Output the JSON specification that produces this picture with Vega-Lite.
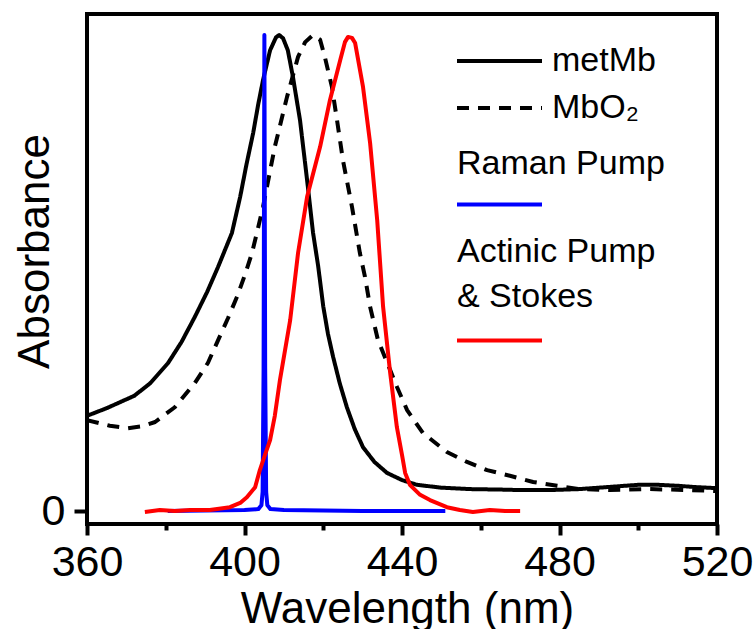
{
  "$schema": "https://vega.github.io/schema/vega-lite/v6.json",
  "width": 630,
  "height": 510,
  "autosize": {"type": "none"},
  "padding": {"left": 87, "top": 14, "right": 39, "bottom": 105},
  "background": "white",
  "config": {
    "view": {"stroke": "black", "strokeWidth": 4},
    "font": "Liberation Sans",
    "axis": {"grid": false, "domain": false, "labelFont": "Liberation Sans", "titleFont": "Liberation Sans", "labelColor": "black", "titleColor": "black", "tickColor": "black", "titleFontWeight": "normal"},
    "legend": {"labelFont": "Liberation Sans", "labelColor": "black", "padding": 0, "labelLimit": 400}
  },
  "datasets": {
    "absorbance": [
      {"sample": "metMb", "wavelength": 360, "value": 0.200},
      {"sample": "metMb", "wavelength": 365, "value": 0.216},
      {"sample": "metMb", "wavelength": 372, "value": 0.242},
      {"sample": "metMb", "wavelength": 376, "value": 0.268},
      {"sample": "metMb", "wavelength": 380.6, "value": 0.311},
      {"sample": "metMb", "wavelength": 384, "value": 0.355},
      {"sample": "metMb", "wavelength": 387.4, "value": 0.408},
      {"sample": "metMb", "wavelength": 390.5, "value": 0.460},
      {"sample": "metMb", "wavelength": 393.3, "value": 0.513},
      {"sample": "metMb", "wavelength": 396.8, "value": 0.584},
      {"sample": "metMb", "wavelength": 398.9, "value": 0.660},
      {"sample": "metMb", "wavelength": 400.5, "value": 0.728},
      {"sample": "metMb", "wavelength": 402.2, "value": 0.794},
      {"sample": "metMb", "wavelength": 403.5, "value": 0.855},
      {"sample": "metMb", "wavelength": 404.7, "value": 0.905},
      {"sample": "metMb", "wavelength": 406.5, "value": 0.968},
      {"sample": "metMb", "wavelength": 408.0, "value": 0.995},
      {"sample": "metMb", "wavelength": 408.8, "value": 1.000},
      {"sample": "metMb", "wavelength": 409.8, "value": 0.993},
      {"sample": "metMb", "wavelength": 411.0, "value": 0.968},
      {"sample": "metMb", "wavelength": 412.3, "value": 0.912},
      {"sample": "metMb", "wavelength": 414.1, "value": 0.821},
      {"sample": "metMb", "wavelength": 415.9, "value": 0.695},
      {"sample": "metMb", "wavelength": 417.4, "value": 0.585},
      {"sample": "metMb", "wavelength": 418.7, "value": 0.515},
      {"sample": "metMb", "wavelength": 420.0, "value": 0.430},
      {"sample": "metMb", "wavelength": 421.2, "value": 0.372},
      {"sample": "metMb", "wavelength": 422.5, "value": 0.324},
      {"sample": "metMb", "wavelength": 424.2, "value": 0.268},
      {"sample": "metMb", "wavelength": 426.0, "value": 0.218},
      {"sample": "metMb", "wavelength": 428.0, "value": 0.172},
      {"sample": "metMb", "wavelength": 430.1, "value": 0.134},
      {"sample": "metMb", "wavelength": 433.0, "value": 0.103},
      {"sample": "metMb", "wavelength": 436.2, "value": 0.080},
      {"sample": "metMb", "wavelength": 440.0, "value": 0.065},
      {"sample": "metMb", "wavelength": 443.8, "value": 0.055},
      {"sample": "metMb", "wavelength": 450.0, "value": 0.049},
      {"sample": "metMb", "wavelength": 457.3, "value": 0.046},
      {"sample": "metMb", "wavelength": 465.0, "value": 0.045},
      {"sample": "metMb", "wavelength": 470.0, "value": 0.044},
      {"sample": "metMb", "wavelength": 477.6, "value": 0.044},
      {"sample": "metMb", "wavelength": 485.0, "value": 0.046},
      {"sample": "metMb", "wavelength": 490.0, "value": 0.049},
      {"sample": "metMb", "wavelength": 495.0, "value": 0.052},
      {"sample": "metMb", "wavelength": 500.0, "value": 0.055},
      {"sample": "metMb", "wavelength": 505.0, "value": 0.055},
      {"sample": "metMb", "wavelength": 510.0, "value": 0.053},
      {"sample": "metMb", "wavelength": 515.0, "value": 0.050},
      {"sample": "metMb", "wavelength": 520.0, "value": 0.048},
      {"sample": "MbO₂", "wavelength": 360, "value": 0.191},
      {"sample": "MbO₂", "wavelength": 365.8, "value": 0.179},
      {"sample": "MbO₂", "wavelength": 370.4, "value": 0.174},
      {"sample": "MbO₂", "wavelength": 374.0, "value": 0.178},
      {"sample": "MbO₂", "wavelength": 377.3, "value": 0.187},
      {"sample": "MbO₂", "wavelength": 382.3, "value": 0.218},
      {"sample": "MbO₂", "wavelength": 387.4, "value": 0.269},
      {"sample": "MbO₂", "wavelength": 390.7, "value": 0.311},
      {"sample": "MbO₂", "wavelength": 393.3, "value": 0.359},
      {"sample": "MbO₂", "wavelength": 395.8, "value": 0.405},
      {"sample": "MbO₂", "wavelength": 398.1, "value": 0.450},
      {"sample": "MbO₂", "wavelength": 400.1, "value": 0.496},
      {"sample": "MbO₂", "wavelength": 401.9, "value": 0.542},
      {"sample": "MbO₂", "wavelength": 403.2, "value": 0.586},
      {"sample": "MbO₂", "wavelength": 404.7, "value": 0.639},
      {"sample": "MbO₂", "wavelength": 407.7, "value": 0.765},
      {"sample": "MbO₂", "wavelength": 410.8, "value": 0.870},
      {"sample": "MbO₂", "wavelength": 413.6, "value": 0.954},
      {"sample": "MbO₂", "wavelength": 415.4, "value": 0.985},
      {"sample": "MbO₂", "wavelength": 417.4, "value": 1.000},
      {"sample": "MbO₂", "wavelength": 419.2, "value": 0.990},
      {"sample": "MbO₂", "wavelength": 420.4, "value": 0.954},
      {"sample": "MbO₂", "wavelength": 422.2, "value": 0.891},
      {"sample": "MbO₂", "wavelength": 423.5, "value": 0.821},
      {"sample": "MbO₂", "wavelength": 425.0, "value": 0.737},
      {"sample": "MbO₂", "wavelength": 427.3, "value": 0.639},
      {"sample": "MbO₂", "wavelength": 429.3, "value": 0.542},
      {"sample": "MbO₂", "wavelength": 430.6, "value": 0.492},
      {"sample": "MbO₂", "wavelength": 431.9, "value": 0.429},
      {"sample": "MbO₂", "wavelength": 433.9, "value": 0.359},
      {"sample": "MbO₂", "wavelength": 437.0, "value": 0.296},
      {"sample": "MbO₂", "wavelength": 438.7, "value": 0.261},
      {"sample": "MbO₂", "wavelength": 441.3, "value": 0.212},
      {"sample": "MbO₂", "wavelength": 445.3, "value": 0.164},
      {"sample": "MbO₂", "wavelength": 451.4, "value": 0.124},
      {"sample": "MbO₂", "wavelength": 456.5, "value": 0.103},
      {"sample": "MbO₂", "wavelength": 461.6, "value": 0.086},
      {"sample": "MbO₂", "wavelength": 467.4, "value": 0.074},
      {"sample": "MbO₂", "wavelength": 473.3, "value": 0.061},
      {"sample": "MbO₂", "wavelength": 479.4, "value": 0.053},
      {"sample": "MbO₂", "wavelength": 485.2, "value": 0.046},
      {"sample": "MbO₂", "wavelength": 492.8, "value": 0.044},
      {"sample": "MbO₂", "wavelength": 503.0, "value": 0.046},
      {"sample": "MbO₂", "wavelength": 513.1, "value": 0.044},
      {"sample": "MbO₂", "wavelength": 520.0, "value": 0.042}
    ],
    "lasers": [
      {"beam": "Raman Pump", "wavelength": 380.5, "value": 0.000},
      {"beam": "Raman Pump", "wavelength": 390.0, "value": 0.001},
      {"beam": "Raman Pump", "wavelength": 400.0, "value": 0.002},
      {"beam": "Raman Pump", "wavelength": 403.5, "value": 0.004},
      {"beam": "Raman Pump", "wavelength": 404.3, "value": 0.012},
      {"beam": "Raman Pump", "wavelength": 404.6, "value": 0.040},
      {"beam": "Raman Pump", "wavelength": 404.85, "value": 0.300},
      {"beam": "Raman Pump", "wavelength": 405.05, "value": 1.000},
      {"beam": "Raman Pump", "wavelength": 405.25, "value": 0.300},
      {"beam": "Raman Pump", "wavelength": 405.5, "value": 0.040},
      {"beam": "Raman Pump", "wavelength": 405.8, "value": 0.012},
      {"beam": "Raman Pump", "wavelength": 406.6, "value": 0.004},
      {"beam": "Raman Pump", "wavelength": 410.0, "value": 0.002},
      {"beam": "Raman Pump", "wavelength": 420.0, "value": 0.001},
      {"beam": "Raman Pump", "wavelength": 430.0, "value": 0.000},
      {"beam": "Raman Pump", "wavelength": 440.0, "value": 0.000},
      {"beam": "Raman Pump", "wavelength": 451.0, "value": 0.000},
      {"beam": "Actinic Pump & Stokes", "wavelength": 374.7, "value": -0.002},
      {"beam": "Actinic Pump & Stokes", "wavelength": 378.5, "value": 0.002},
      {"beam": "Actinic Pump & Stokes", "wavelength": 382.3, "value": 0.000},
      {"beam": "Actinic Pump & Stokes", "wavelength": 386.2, "value": 0.002},
      {"beam": "Actinic Pump & Stokes", "wavelength": 391.2, "value": 0.002},
      {"beam": "Actinic Pump & Stokes", "wavelength": 396.3, "value": 0.008},
      {"beam": "Actinic Pump & Stokes", "wavelength": 398.9, "value": 0.017},
      {"beam": "Actinic Pump & Stokes", "wavelength": 400.6, "value": 0.029},
      {"beam": "Actinic Pump & Stokes", "wavelength": 402.7, "value": 0.050},
      {"beam": "Actinic Pump & Stokes", "wavelength": 403.9, "value": 0.086},
      {"beam": "Actinic Pump & Stokes", "wavelength": 405.2, "value": 0.118},
      {"beam": "Actinic Pump & Stokes", "wavelength": 406.5, "value": 0.149},
      {"beam": "Actinic Pump & Stokes", "wavelength": 407.7, "value": 0.200},
      {"beam": "Actinic Pump & Stokes", "wavelength": 409.0, "value": 0.275},
      {"beam": "Actinic Pump & Stokes", "wavelength": 411.6, "value": 0.401},
      {"beam": "Actinic Pump & Stokes", "wavelength": 413.6, "value": 0.542},
      {"beam": "Actinic Pump & Stokes", "wavelength": 415.9, "value": 0.660},
      {"beam": "Actinic Pump & Stokes", "wavelength": 419.2, "value": 0.765},
      {"beam": "Actinic Pump & Stokes", "wavelength": 421.7, "value": 0.863},
      {"beam": "Actinic Pump & Stokes", "wavelength": 424.3, "value": 0.947},
      {"beam": "Actinic Pump & Stokes", "wavelength": 425.5, "value": 0.985},
      {"beam": "Actinic Pump & Stokes", "wavelength": 426.3, "value": 0.996},
      {"beam": "Actinic Pump & Stokes", "wavelength": 427.3, "value": 0.994},
      {"beam": "Actinic Pump & Stokes", "wavelength": 428.1, "value": 0.983},
      {"beam": "Actinic Pump & Stokes", "wavelength": 430.1, "value": 0.891},
      {"beam": "Actinic Pump & Stokes", "wavelength": 431.9, "value": 0.773},
      {"beam": "Actinic Pump & Stokes", "wavelength": 433.7, "value": 0.611},
      {"beam": "Actinic Pump & Stokes", "wavelength": 435.2, "value": 0.429},
      {"beam": "Actinic Pump & Stokes", "wavelength": 437.0, "value": 0.290},
      {"beam": "Actinic Pump & Stokes", "wavelength": 438.7, "value": 0.176},
      {"beam": "Actinic Pump & Stokes", "wavelength": 440.0, "value": 0.118},
      {"beam": "Actinic Pump & Stokes", "wavelength": 440.8, "value": 0.080},
      {"beam": "Actinic Pump & Stokes", "wavelength": 442.0, "value": 0.055},
      {"beam": "Actinic Pump & Stokes", "wavelength": 444.6, "value": 0.034},
      {"beam": "Actinic Pump & Stokes", "wavelength": 447.1, "value": 0.023},
      {"beam": "Actinic Pump & Stokes", "wavelength": 451.4, "value": 0.008},
      {"beam": "Actinic Pump & Stokes", "wavelength": 454.7, "value": 0.002},
      {"beam": "Actinic Pump & Stokes", "wavelength": 458.0, "value": -0.002},
      {"beam": "Actinic Pump & Stokes", "wavelength": 462.3, "value": 0.002},
      {"beam": "Actinic Pump & Stokes", "wavelength": 466.2, "value": 0.000},
      {"beam": "Actinic Pump & Stokes", "wavelength": 470.0, "value": 0.000}
    ]
  },
  "encoding": {
    "x": {
      "field": "wavelength", "type": "quantitative",
      "scale": {"domain": [360, 520], "nice": false, "zero": false},
      "axis": {
        "values": [360, 380, 400, 420, 440, 460, 480, 500, 520],
        "format": "d",
        "labelExpr": "datum.value % 40 == 0 ? datum.label : ''",
        "labelFlush": false, "labelOverlap": false,
        "tickSize": {"condition": {"test": "datum.value % 40 == 0", "value": 11}, "value": 6},
        "tickWidth": 4,
        "labelFontSize": 43, "labelPadding": 6,
        "title": "Wavelength (nm)", "titleFontSize": 44,
        "titleX": 320, "titleY": 63, "titleBaseline": "top"
      }
    },
    "y": {
      "field": "value", "type": "quantitative",
      "scale": {"domain": [-0.0273, 1.0441], "nice": false, "zero": false},
      "axis": {
        "values": [0], "format": "d",
        "tickSize": 13, "tickWidth": 4,
        "labelFontSize": 43, "labelPadding": 9,
        "title": "Absorbance", "titleFontSize": 44,
        "titleX": -39, "titleY": 237, "titleBaseline": "alphabetic", "titleAngle": -90
      }
    }
  },
  "layer": [
    {
      "data": {"name": "absorbance"},
      "mark": {"type": "line", "color": "black", "strokeWidth": 4, "strokeJoin": "round", "clip": true},
      "encoding": {
        "strokeDash": {
          "field": "sample", "type": "nominal",
          "scale": {"domain": ["metMb", "MbO₂"], "range": [[1, 0], [12, 9]]},
          "legend": {
            "title": null, "orient": "none", "legendX": 368, "legendY": 32,
            "symbolType": "stroke", "symbolSize": 7225, "symbolStrokeWidth": 4,
            "symbolStrokeColor": "black",
            "labelFontSize": 34, "labelOffset": 8,
            "clipHeight": 30, "rowPadding": 13
          }
        }
      }
    },
    {
      "data": {"name": "lasers"},
      "mark": {"type": "line", "strokeWidth": 4, "strokeJoin": "round", "clip": true},
      "encoding": {
        "color": {
          "field": "beam", "type": "nominal",
          "scale": {"domain": ["Raman Pump", "Actinic Pump & Stokes"], "range": ["#0000ff", "#ff0000"]},
          "legend": {
            "title": null, "orient": "none", "legendX": 368, "legendY": 146,
            "symbolType": "stroke", "symbolSize": 7225, "symbolStrokeWidth": 4,
            "labelFontSize": 34, "labelOffset": -87, "labelBaseline": "alphabetic",
            "labelExpr": "datum.value == 'Actinic Pump & Stokes' ? ['Actinic Pump', '& Stokes'] : datum.label",
            "rowPadding": 21,
            "encode": {"labels": {"update": {"dy": {"signal": "datum.value == 'Actinic Pump & Stokes' ? -79 : -31"}, "lineHeight": {"value": 45}}}}
          }
        }
      }
    }
  ]
}
